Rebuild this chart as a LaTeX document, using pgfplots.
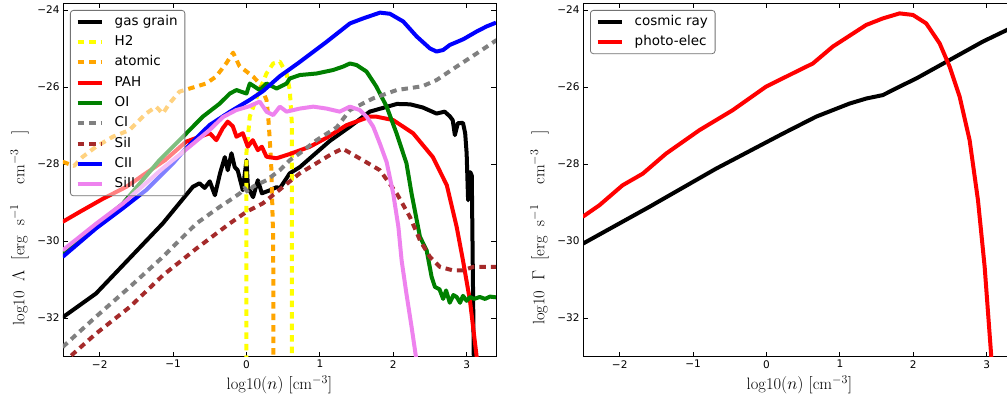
\documentclass[border=0pt]{standalone}
\usepackage{pgfplots}
\pgfplotsset{compat=1.18}
\usepackage{fontspec}
\newfontfamily\dejavu{DejaVu Sans}
\definecolor{mgreen}{HTML}{008000}
\definecolor{morange}{HTML}{FFA500}
\definecolor{mgray}{HTML}{808080}
\definecolor{mbrown}{HTML}{A52A2A}
\definecolor{mviolet}{HTML}{EE82EE}
\definecolor{myellow}{HTML}{FFFF00}
\pgfplotsset{
  mystyle/.style={
    scale only axis, width=433pt, height=353.7pt,
    xmin=-2.5, xmax=3.4, ymin=-33, ymax=-23.82,
    xtick={-2,-1,0,1,2,3}, xticklabels={−2,−1,0,1,2,3},
    ytick={-32,-30,-28,-26,-24}, yticklabels={−32,−30,−28,−26,−24},
    tick label style={font=\dejavu\fontsize{10.5}{12}\selectfont},
    major tick length=5pt, tick style={black, line width=0.8pt},
    axis line style={line width=0.9pt},
    every axis x label/.style={at={(axis description cs:0.5,0)}, yshift=-28pt, anchor=center, font=\fontsize{16.5}{19}\selectfont},
    every axis y label/.style={at={(axis description cs:0,0.365)}, xshift=-43.5pt, rotate=90, anchor=center, font=\fontsize{16.5}{19}\selectfont},
    legend cell align=left,
    legend image code/.code={\draw[##1] (0pt,0pt) -- (24pt,0pt);},
    legend style={at={(axis description cs:0,1)}, anchor=north west, xshift=7pt, yshift=-7pt,
      draw=black!55, line width=0.8pt, rounded corners=3pt, fill=white, fill opacity=0.5,
      draw opacity=1, text opacity=1, font=\dejavu\fontsize{13.5}{16}\selectfont,
      inner xsep=5.3pt, inner ysep=5pt, row sep=7.3pt,
      nodes={inner xsep=2pt, inner ysep=0pt, text height=10pt, text depth=3pt},
      /tikz/every odd column/.append style={column sep=9pt}},
    every axis plot/.append style={line width=4pt, line join=round},
  },
  dsh/.style={dash pattern=on 6.5pt off 5pt},
}
\begin{document}
\begin{tikzpicture}
\begin{axis}[mystyle, at={(0pt,0pt)}, anchor=south west,
  xlabel={$\mathrm{log10}(n)\ [\mathrm{cm}^{-3}]$},
  ylabel={$\mathrm{log10}\ \ \Lambda\ \ [\mathrm{erg\ \ s}^{-1}\ \ \ \ \mathrm{cm}^{-3}\ \ \ ]$}]
\addplot[black] coordinates {(-2.505,-31.98) (-2.05,-31.36) (-1.14,-29.54) (-0.73,-28.59) (-0.64,-28.50) (-0.57,-28.62) (-0.50,-28.45) (-0.43,-28.81) (-0.36,-28.24) (-0.295,-27.82) (-0.255,-28.16) (-0.204,-27.72) (-0.16,-28.08) (-0.12,-28.16) (-0.05,-28.68) (0.0,-27.90) (0.02,-28.60) (0.09,-28.86) (0.155,-28.42) (0.21,-28.76) (0.32,-28.68) (0.41,-28.60) (0.455,-28.63) (0.59,-28.24) (0.727,-28.08) (0.955,-27.7) (1.136,-27.4) (1.41,-27.03) (1.68,-26.64) (2.05,-26.44) (2.23,-26.45) (2.40,-26.53) (2.59,-26.69) (2.70,-26.64) (2.77,-26.76) (2.81,-26.86) (2.84,-27.25) (2.88,-26.94) (2.95,-26.93) (2.98,-27.2) (3.0,-27.72) (3.02,-28.94) (3.05,-28.21) (3.07,-28.3) (3.10,-33.5)};
\addlegendentry{gas grain}
\addplot[myellow, dsh] coordinates {(0.0,-40) (0.0,-27.7) (0.045,-26.77) (0.159,-26.17) (0.273,-25.65) (0.364,-25.39) (0.455,-25.34) (0.546,-25.65) (0.59,-26.08) (0.62,-27.0) (0.62,-40)};
\addlegendentry{H2}
\addplot[morange, dsh] coordinates {(-2.505,-27.94) (-2.35,-28.05) (-2.23,-27.81) (-2.05,-27.55) (-1.82,-27.29) (-1.595,-27.12) (-1.369,-26.69) (-1.232,-26.51) (-1.14,-26.69) (-1.05,-26.43) (-0.913,-26.12) (-0.687,-25.99) (-0.55,-25.91) (-0.414,-25.73) (-0.277,-25.39) (-0.182,-25.11) (-0.095,-25.46) (-0.005,-25.59) (0.09,-25.73) (0.18,-25.91) (0.273,-26.34) (0.295,-26.73) (0.318,-27.38) (0.34,-28.16) (0.364,-29.98) (0.378,-40)};
\addlegendentry{atomic}
\addplot[red] coordinates {(-2.505,-29.50) (-2.27,-29.24) (-1.955,-28.90) (-1.636,-28.59) (-1.41,-28.29) (-1.11,-27.90) (-0.823,-27.42) (-0.636,-27.29) (-0.50,-27.20) (-0.41,-27.38) (-0.323,-27.07) (-0.255,-26.90) (-0.186,-27.02) (-0.136,-27.29) (-0.05,-27.20) (0.018,-27.55) (0.086,-27.38) (0.155,-27.64) (0.21,-27.55) (0.273,-27.81) (0.41,-27.85) (0.59,-27.74) (0.864,-27.55) (1.09,-27.32) (1.364,-26.99) (1.68,-26.77) (1.77,-26.77) (2.0,-26.86) (2.27,-27.20) (2.54,-27.82) (2.73,-28.55) (2.864,-29.63) (2.95,-30.50) (3.045,-31.54) (3.137,-33.01) (3.16,-34)};
\addlegendentry{PAH}
\addplot[mgreen] coordinates {(-2.505,-30.32) (-1.96,-29.46) (-1.686,-29.03) (-1.186,-27.90) (-0.823,-27.21) (-0.595,-26.77) (-0.364,-26.43) (-0.227,-26.17) (-0.136,-26.08) (0.0,-26.17) (0.045,-25.91) (0.18,-26.08) (0.273,-25.91) (0.41,-26.04) (0.546,-25.91) (0.59,-25.78) (0.727,-25.69) (0.955,-25.65) (1.18,-25.56) (1.318,-25.47) (1.41,-25.39) (1.50,-25.43) (1.636,-25.60) (1.77,-25.99) (1.91,-26.51) (2.046,-27.21) (2.18,-27.98) (2.25,-28.77) (2.364,-29.89) (2.455,-30.24) (2.523,-30.93) (2.568,-31.19) (2.63,-31.25) (2.68,-31.5) (2.72,-31.28) (2.77,-31.6) (2.82,-31.4) (2.864,-31.45) (2.91,-31.6) (2.95,-31.42) (3.0,-31.55) (3.045,-31.45) (3.1,-31.5) (3.18,-31.45) (3.25,-31.5) (3.32,-31.44) (3.40,-31.46)};
\addlegendentry{OI}
\addplot[mgray, dsh] coordinates {(-2.505,-32.75) (-2.055,-31.97) (-1.59,-31.19) (-1.14,-30.41) (-0.68,-29.54) (-0.364,-29.11) (-0.227,-28.94) (-0.09,-28.76) (-0.03,-28.62) (0.03,-28.75) (0.086,-28.59) (0.273,-28.42) (0.455,-28.16) (0.59,-27.90) (0.727,-27.72) (0.955,-27.38) (1.228,-27.05) (1.41,-26.6) (1.72,-26.30) (2.046,-26.08) (2.40,-25.98) (2.59,-25.82) (2.864,-25.47) (3.137,-25.13) (3.41,-24.78)};
\addlegendentry{CI}
\addplot[mbrown, dsh] coordinates {(-2.505,-33.17) (-2.364,-32.93) (-2.05,-32.40) (-1.59,-31.71) (-1.14,-30.89) (-0.68,-30.19) (-0.227,-29.54) (0.0,-29.24) (0.223,-29.02) (0.727,-28.24) (1.177,-27.72) (1.31,-27.60) (1.586,-27.90) (1.818,-28.16) (2.046,-28.76) (2.227,-29.37) (2.364,-29.98) (2.5,-30.41) (2.636,-30.67) (2.814,-30.76) (2.95,-30.76) (3.09,-30.67) (3.41,-30.67)};
\addlegendentry{SiI}
\addplot[blue] coordinates {(-2.505,-30.41) (-2.05,-29.67) (-1.686,-29.15) (-1.37,-28.68) (-1.0,-27.98) (-0.823,-27.59) (-0.504,-26.99) (-0.231,-26.65) (0.041,-26.34) (0.223,-26.11) (0.455,-25.72) (0.727,-25.35) (1.09,-24.83) (1.41,-24.35) (1.59,-24.22) (1.82,-24.07) (1.955,-24.10) (2.136,-24.30) (2.32,-24.69) (2.5,-25.0) (2.59,-25.08) (2.68,-25.04) (2.77,-24.91) (2.955,-24.76) (3.137,-24.56) (3.27,-24.43) (3.40,-24.33)};
\addlegendentry{CII}
\addplot[mviolet] coordinates {(-2.505,-30.24) (-2.05,-29.55) (-1.686,-29.03) (-1.14,-28.11) (-0.777,-27.55) (-0.504,-27.12) (-0.32,-26.78) (-0.14,-26.6) (0.04,-26.5) (0.18,-26.38) (0.273,-26.64) (0.364,-26.73) (0.455,-26.51) (0.546,-26.64) (0.727,-26.56) (0.91,-26.51) (1.09,-26.56) (1.27,-26.64) (1.41,-26.51) (1.545,-26.60) (1.636,-26.77) (1.727,-27.03) (1.818,-27.47) (1.91,-27.95) (2.0,-28.77) (2.07,-29.63) (2.114,-30.50) (2.18,-31.37) (2.25,-32.23) (2.31,-33.01) (2.33,-34)};
\addlegendentry{SiII}
\end{axis}
\begin{axis}[mystyle, at={(520pt,0pt)}, anchor=south west,
  xlabel={$\mathrm{log10}(n)\ [\mathrm{cm}^{-3}]$},
  ylabel={$\mathrm{log10}\ \ \Gamma\ \ [\mathrm{erg\ \ s}^{-1}\ \ \ \ \mathrm{cm}^{-3}\ \ \ ]$}]
\addplot[black] coordinates {(-2.505,-30.07) (-1.595,-29.11) (-0.687,-28.12) (0.223,-27.21) (0.677,-26.77) (1.132,-26.43) (1.359,-26.30) (1.586,-26.21) (1.814,-25.99) (2.04,-25.78) (2.495,-25.30) (2.95,-24.82) (3.277,-24.52) (3.40,-24.39)};
\addlegendentry{cosmic ray}
\addplot[red] coordinates {(-2.505,-29.37) (-2.277,-29.07) (-1.96,-28.55) (-1.686,-28.25) (-1.369,-27.73) (-0.913,-27.12) (-0.459,-26.60) (-0.005,-25.99) (0.45,-25.56) (0.632,-25.39) (0.905,-24.95) (1.359,-24.39) (1.586,-24.22) (1.814,-24.09) (1.995,-24.13) (2.177,-24.35) (2.36,-24.87) (2.495,-25.47) (2.632,-26.25) (2.768,-27.38) (2.882,-28.94) (2.973,-30.67) (3.064,-33.02) (3.08,-34)};
\addlegendentry{photo-elec}
\end{axis}
\pgfresetboundingbox
\path (-63pt,-42.3pt) rectangle (944pt,356.7pt);
\end{tikzpicture}
\end{document}
